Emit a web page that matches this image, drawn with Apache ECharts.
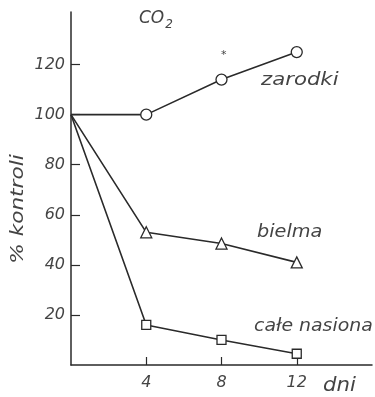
<!DOCTYPE html>
<html><head><meta charset="utf-8">
<script src="https://cdn.jsdelivr.net/npm/echarts@6/dist/echarts.min.js"></script>
<style>html,body{margin:0;padding:0;background:#fff}#c{width:375px;height:397px}</style>
</head><body><div id="c"></div>
<script>
const days = [0, 4, 8, 12];
const zarodki = [100, 100, 114, 125];
const bielma = [100, 53, 48.5, 41];
const caleNasiona = [100, 16, 10, 4.5];
const seriesNames = ['zarodki', 'bielma', 'całe nasiona'];
const xTickLabels = [4, 8, 12];
const yTickLabels = [20, 40, 60, 80, 100, 120];

const ink = '#2a2a2a';
const txt = '#444444';
const font = 'DejaVu Sans';
const pairs = arr => days.map((d, i) => [d, arr[i]]);
const mkSeries = (name, arr, symbol, size) => ({
  name, type: 'line', data: pairs(arr), symbol, symbolSize: size,
  showAllSymbol: true,
  lineStyle: {color: ink, width: 1.6},
  itemStyle: {color: '#fff', borderColor: ink, borderWidth: 1.3},
  emphasis: {disabled: true},
  z: 3
});
const s1 = mkSeries(seriesNames[0], zarodki, 'circle', 11);
const s2 = mkSeries(seriesNames[1], bielma, 'triangle', 11);
const s3 = mkSeries(seriesNames[2], caleNasiona, 'rect', 9);
[s1, s2, s3].forEach(s => { s.data = s.data.map((p, i) => i === 0 ? {value: p, symbol: 'none'} : p); });

const chart = echarts.init(document.getElementById('c'));
chart.setOption({
  animation: false,
  backgroundColor: '#fff',
  grid: {left: 71, right: 3, top: 12, bottom: 32},
  xAxis: {
    type: 'value', min: 0, max: 16, interval: 4,
    axisLine: {lineStyle: {color: ink, width: 1.5}},
    axisTick: {show: true, inside: true, length: 8, lineStyle: {color: ink, width: 1.2}, customValues: xTickLabels},
    splitLine: {show: false},
    axisLabel: {
      margin: 10, color: txt, fontFamily: font, fontStyle: 'italic', fontSize: 16,
      customValues: xTickLabels
    }
  },
  yAxis: {
    type: 'value', min: 0, max: 141, interval: 20,
    axisLine: {show: true, lineStyle: {color: ink, width: 1.5}},
    axisTick: {show: true, inside: true, length: 9, lineStyle: {color: ink, width: 1.2}, customValues: yTickLabels},
    splitLine: {show: false},
    axisLabel: {
      margin: 6, color: txt, fontFamily: font, fontStyle: 'italic', fontSize: 16,
      customValues: yTickLabels
    }
  },
  series: [s1, s2, s3],
  graphic: [
    {type: 'text', left: 139, top: 10, style: {
      text: '{a|CO}{b|2}', fill: txt,
      rich: {a: {fontFamily: font, fontStyle: 'italic', fontSize: 17, fill: txt},
             b: {fontFamily: font, fontStyle: 'italic', fontSize: 12, fill: txt, padding: [12, 0, 0, 1]}}
    }},
    {type: 'text', left: 221, top: 50, style: {text: '*', font: '11px ' + font, fill: '#444'}},
    {type: 'text', x: 261, y: 80, scaleX: 1.18, style: {text: seriesNames[0], font: 'italic 18px ' + font, fill: txt, verticalAlign: 'middle'}},
    {type: 'text', x: 257, y: 232, scaleX: 1.07, style: {text: seriesNames[1], font: 'italic 18px ' + font, fill: txt, verticalAlign: 'middle'}},
    {type: 'text', x: 254, y: 326, scaleX: 1.05, style: {text: seriesNames[2], font: 'italic 18px ' + font, fill: txt, verticalAlign: 'middle'}},
    {type: 'text', x: 323, y: 386, scaleX: 1.12, style: {text: 'dni', font: 'italic 19px ' + font, fill: txt, verticalAlign: 'middle'}},
    {type: 'text', x: 18, y: 209, rotation: Math.PI / 2, scaleX: 1.2, style: {
      text: '% kontroli', font: 'italic 18px ' + font, fill: txt, align: 'center', verticalAlign: 'middle'
    }}
  ]
});
</script></body></html>
